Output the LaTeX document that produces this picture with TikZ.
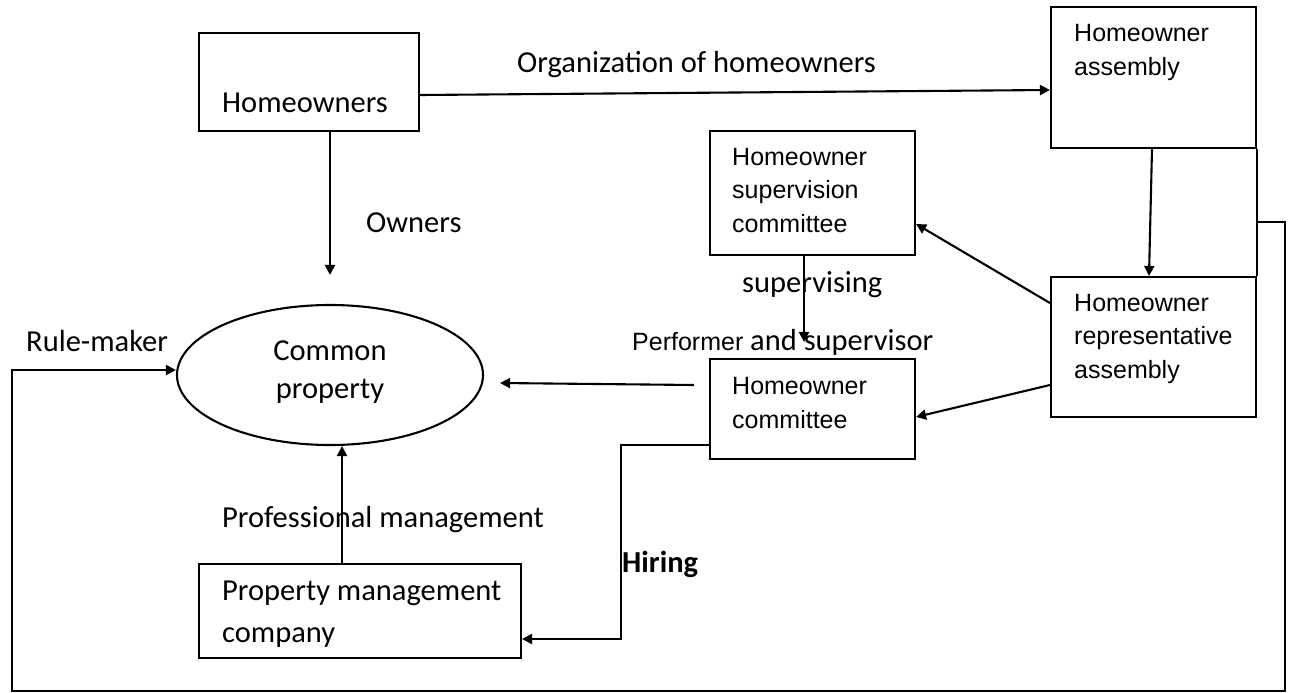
\documentclass[tikz,border=0pt]{standalone}
\usepackage{fontspec}
\setmainfont{Carlito}
\newfontfamily\arialf{Liberation Sans}
\usetikzlibrary{arrows.meta,shapes.geometric}
\begin{document}
\begin{tikzpicture}[x=1pt,y=-1pt,
  box/.style={draw, line width=2.1pt, inner sep=0pt, rectangle},
  conn/.style={line width=2.1pt},
  arr/.style={conn, -{Triangle[length=10pt,width=10pt]}},
  cal/.style={font=\fontsize{30.5}{40}\selectfont, inner sep=0pt},
  calb/.style={font=\bfseries\fontsize{30.5}{40}\selectfont, inner sep=0pt},
  ari/.style={font=\arialf\fontsize{25}{33.5}\selectfont, inner sep=0pt, align=left},
]
\useasboundingbox (0,0) rectangle (1290,693);

% boxes
\node[box, minimum width=220pt, minimum height=98pt] (hw) at (309,82) {};
\node[box, minimum width=205pt, minimum height=141pt] (asm) at (1153.5,77.5) {};
\node[box, minimum width=205pt, minimum height=124pt] (sup) at (812.5,193) {};
\node[box, minimum width=205pt, minimum height=140pt] (rep) at (1153.5,347) {};
\node[box, minimum width=205pt, minimum height=100pt] (com) at (812.5,409) {};
\node[box, minimum width=322pt, minimum height=94pt] (pmc) at (360,611) {};
\node[draw, line width=2.1pt, ellipse, inner sep=0pt, minimum width=306pt, minimum height=140pt] (cp) at (330,375) {};

% box texts (base anchor = last line's baseline)
\node[cal, anchor=base west] (tHw) at (222,112) {Homeowners};
\node[ari, anchor=base west] (tAsm) at (1074,75) {Homeowner\\assembly};
\node[ari, anchor=base west] (tSup) at (732,232) {Homeowner\\supervision\\committee};
\node[ari, anchor=base west] (tRep) at (1074,378) {Homeowner\\representative\\assembly};
\node[ari, anchor=base west] (tCom) at (732,428) {Homeowner\\committee};
\node[cal, anchor=base, align=center, font=\fontsize{30.5}{38}\selectfont] (tCp) at (330,398) {Common\\property};
\node[cal, anchor=base west, align=left, font=\fontsize{30.5}{42}\selectfont] (tPmc) at (222,642) {Property management\\company};

% connector labels
\node[cal, anchor=base west] (lOrg) at (517,73) {Organization of homeowners};
\node[cal, anchor=base west] (lOwn) at (366,232) {Owners};
\node[cal, anchor=base west] (lSupv) at (742,292) {supervising};
\node[cal, anchor=base west] (lPerf) at (632,350) {{\arialf\fontsize{25}{30}\selectfont Performer} and supervisor};
\node[cal, anchor=base west] (lRule) at (26,351) {Rule-maker};
\node[cal, anchor=base west] (lProf) at (222,527) {Professional management};
\node[calb, anchor=base west] (lHire) at (622,572) {Hiring};

% helper coordinates
\coordinate (loopR) at (1285,691);
\coordinate (loopL) at (12,691);
\coordinate (hireC) at (621,639);

% connectors
\draw[arr] ([yshift=-13pt]hw.east) -- ([yshift=-12.5pt]asm.west);
\draw[arr] (hw.south -| cp.north) -- ([yshift=29pt]cp.north);
\draw[arr] ([xshift=-1.5pt]asm.south) -- ([xshift=-4.5pt]rep.north);
\draw[conn] (asm.south east) -- (rep.north east);
\draw[arr] ([yshift=-73pt]asm.south east) -| (loopR) -- (loopL) |- ([yshift=5pt]cp.west);
\draw[arr] ([yshift=44pt]rep.west) -- ([yshift=-31pt]sup.east);
\draw[arr] ([yshift=-38pt]rep.west) -- ([yshift=-8pt]com.east);
\draw[arr] ([xshift=-8.5pt]sup.south) -- ([xshift=-8.5pt,yshift=16pt]com.north);
\draw[arr] ([xshift=-15pt,yshift=24pt]com.west) -- ([xshift=16pt,yshift=-8pt]cp.east);
\draw[arr] ([yshift=-36pt]com.west) -| (hireC) -- (pmc.east |- hireC);
\draw[arr] ([xshift=-18pt]pmc.north) -- ([xshift=12pt]cp.south);
\end{tikzpicture}
\end{document}
